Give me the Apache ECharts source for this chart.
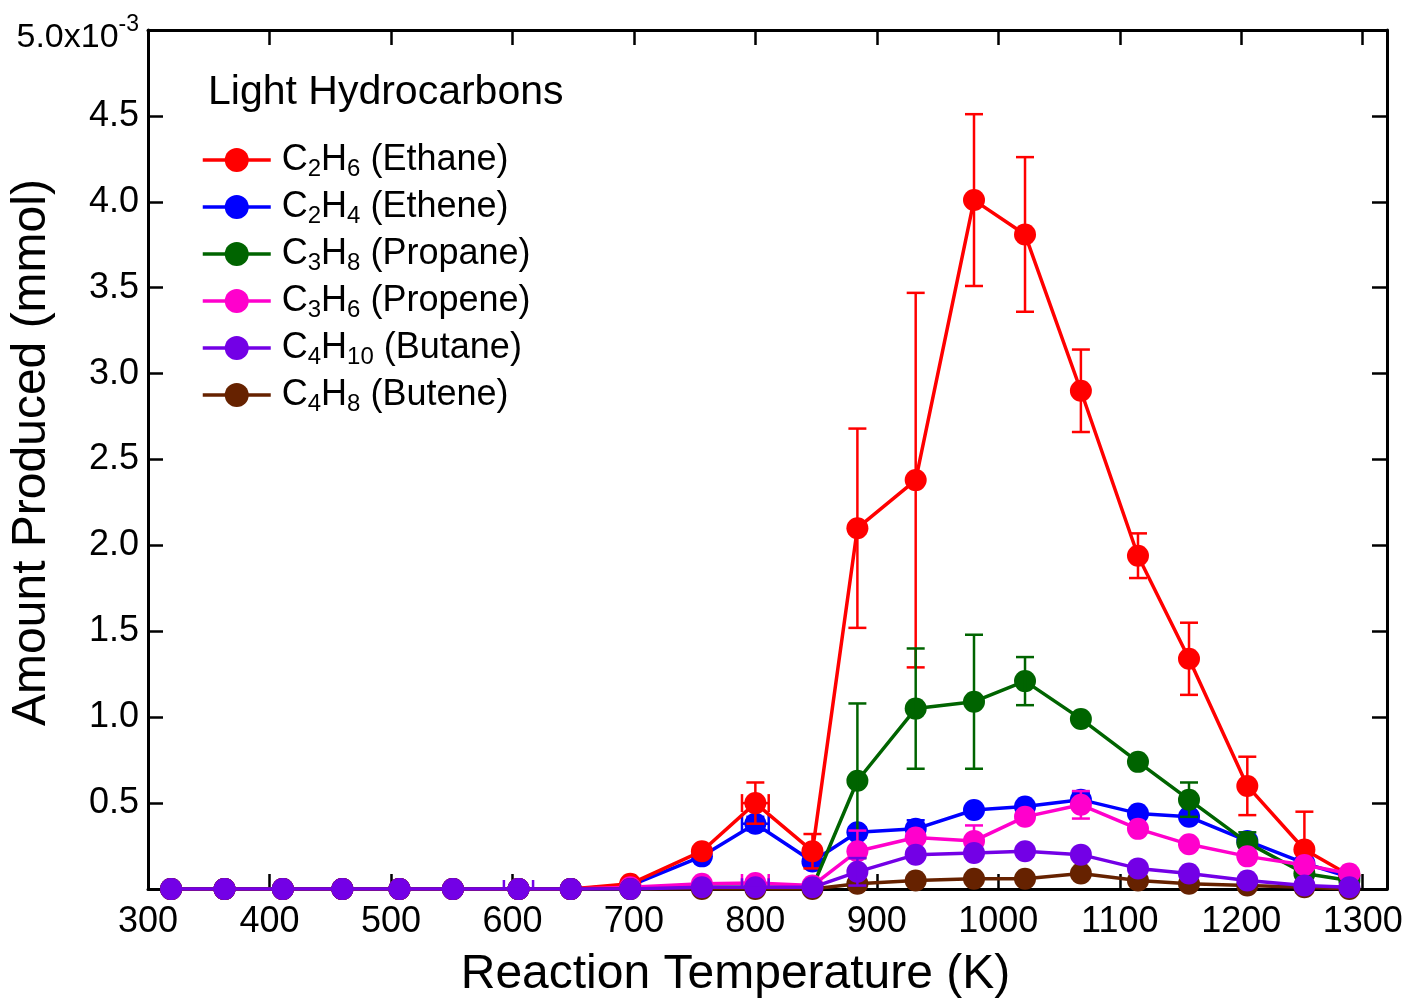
<!DOCTYPE html>
<html>
<head>
<meta charset="utf-8">
<script src="https://cdn.jsdelivr.net/npm/echarts@6/dist/echarts.min.js"></script>
<style>
html,body{margin:0;padding:0;background:#fff;}
#chart{width:1406px;height:998px;}
</style>
</head>
<body>
<div id="chart"></div>
<script>
// Reaction temperatures (K)
const temps = [319,363,411,460,507,551,605,648,697,756,800,847,884,932,980,1022,1068,1115,1157,1205,1252,1289];

// Amount produced, in units of 10^-3 mmol
const ethane  = [0,0,0,0,0,0,0,0,0.03,0.22,0.50,0.22,2.10,2.38,4.01,3.81,2.90,1.94,1.34,0.60,0.23,0.08];
const ethene  = [0,0,0,0,0,0,0,0,0.02,0.19,0.38,0.16,0.33,0.35,0.46,0.48,0.52,0.44,0.42,0.28,0.15,0.07];
const propane = [0,0,0,0,0,0,0,0,0.00,0.01,0.01,0.01,0.63,1.05,1.09,1.21,0.99,0.74,0.52,0.27,0.09,0.05];
const propene = [0,0,0,0,0,0,0,0,0.01,0.03,0.035,0.02,0.22,0.30,0.28,0.42,0.49,0.35,0.26,0.19,0.14,0.09];
const butane  = [0,0,0,0,0,0,0,0,0.00,0.01,0.01,0.01,0.10,0.20,0.21,0.22,0.20,0.12,0.09,0.05,0.02,0.01];
const butene  = [0,0,0,0,0,0,0,0,0.00,0.00,0.00,0.00,0.03,0.05,0.06,0.06,0.09,0.05,0.03,0.02,0.01,0.00];

// Vertical error (+/-), same units
const ethaneErr  = [0,0,0,0,0,0,0,0,0,0,0.12,0.10,0.58,1.09,0.50,0.45,0.24,0.13,0.21,0.17,0.22,0];
const etheneErr  = [0,0,0,0,0,0,0,0,0,0,0.04,0,0.03,0.05,0,0,0.04,0,0.02,0,0,0];
const propaneErr = [0,0,0,0,0,0,0,0,0,0,0,0,0.45,0.35,0.39,0.14,0,0,0.10,0.06,0.05,0];
const propeneErr = [0,0,0,0,0,0,0,0,0,0,0,0,0.12,0,0.09,0,0.08,0,0,0,0,0];
const butaneErr  = [0,0,0,0,0,0,0,0,0,0,0,0,0.08,0,0,0,0,0,0,0,0,0];
const buteneErr  = [0,0,0,0,0,0,0,0,0,0,0,0,0,0,0,0,0,0,0,0,0,0];

// Horizontal (temperature) error (+/- K)
const ethaneXErr  = [0,0,0,0,0,0,0,0,0,0,11,0,0,0,0,0,0,0,0,0,0,0];
const etheneXErr  = [0,0,0,0,0,0,0,0,0,0,11,0,0,0,0,0,0,0,0,0,0,0];
const propaneXErr = [0,0,0,0,0,0,0,0,0,0,0,0,0,0,0,0,0,0,0,0,0,0];
const propeneXErr = [0,0,0,0,0,0,0,0,0,0,11,0,0,0,0,0,0,0,0,0,0,0];
const butaneXErr  = [0,0,0,0,0,0,12,0,0,0,11,0,0,0,0,0,0,0,0,0,0,0];
const buteneXErr  = [0,0,0,0,0,0,0,0,0,0,0,0,0,0,0,0,0,0,0,0,0,0];

// Legend labels (formula parts and names)
const speciesNames = ['C2H6 (Ethane)','C2H4 (Ethene)','C3H8 (Propane)','C3H6 (Propene)','C4H10 (Butane)','C4H8 (Butene)'];
const speciesRich = [
  '{g|}{m|C}{s|2}{m|H}{s|6}{m| (Ethane)}',
  '{g|}{m|C}{s|2}{m|H}{s|4}{m| (Ethene)}',
  '{g|}{m|C}{s|3}{m|H}{s|8}{m| (Propane)}',
  '{g|}{m|C}{s|3}{m|H}{s|6}{m| (Propene)}',
  '{g|}{m|C}{s|4}{m|H}{s|10}{m| (Butane)}',
  '{g|}{m|C}{s|4}{m|H}{s|8}{m| (Butene)}'
];
const xTicks = [300,400,500,600,700,800,900,1000,1100,1200,1300];
const yTicks = [0.5,1.0,1.5,2.0,2.5,3.0,3.5,4.0,4.5,5.0];

const FONT = '"Liberation Sans", Arial, sans-serif';
const colors = ['#ff0000','#0000ff','#006400','#ff00cc','#7300e6','#662200'];
const values = [ethane, ethene, propane, propene, butane, butene];
const errs = [ethaneErr, etheneErr, propaneErr, propeneErr, butaneErr, buteneErr];
const xerrs = [ethaneXErr, etheneXErr, propaneXErr, propeneXErr, butaneXErr, buteneXErr];
// drawing order (z): ethene bottom, then ethane, propane, propene, butene, butane
const zOrder = [4, 2, 6, 8, 12, 10];

function errRender(color) {
  return function (params, api) {
    const x = api.value(0), y = api.value(1);
    const ey = api.value(2) || 0, ex = api.value(3) || 0;
    const cap = 9;
    const st = {stroke: color, lineWidth: 2.5};
    const ch = [];
    if (ey > 0) {
      const a = api.coord([x, y + ey]), b = api.coord([x, y - ey]);
      ch.push({type:'line', shape:{x1:a[0],y1:a[1],x2:b[0],y2:b[1]}, style:st});
      ch.push({type:'line', shape:{x1:a[0]-cap,y1:a[1],x2:a[0]+cap,y2:a[1]}, style:st});
      ch.push({type:'line', shape:{x1:b[0]-cap,y1:b[1],x2:b[0]+cap,y2:b[1]}, style:st});
    }
    if (ex > 0) {
      const a = api.coord([x - ex, y]), b = api.coord([x + ex, y]);
      ch.push({type:'line', shape:{x1:a[0],y1:a[1],x2:b[0],y2:b[1]}, style:st});
      ch.push({type:'line', shape:{x1:a[0],y1:a[1]-cap,x2:a[0],y2:a[1]+cap}, style:st});
      ch.push({type:'line', shape:{x1:b[0],y1:b[1]-cap,x2:b[0],y2:b[1]+cap}, style:st});
    }
    return {type:'group', children: ch};
  };
}

const series = [];
speciesNames.forEach((name, i) => {
  series.push({
    name: name,
    type: 'line',
    data: temps.map((t, k) => [t, values[i][k]]),
    symbol: 'circle',
    symbolSize: 22,
    lineStyle: {color: colors[i], width: 3.5},
    itemStyle: {color: colors[i]},
    z: zOrder[i],
    animation: false
  });
  const ed = [];
  temps.forEach((t, k) => {
    if (errs[i][k] > 0 || xerrs[i][k] > 0) ed.push([t, values[i][k], errs[i][k], xerrs[i][k]]);
  });
  series.push({
    type: 'custom',
    renderItem: errRender(colors[i]),
    data: ed,
    encode: {x: 0, y: 1},
    z: zOrder[i] + 1,
    clip: true,
    silent: true,
    animation: false
  });
});

const axisLineStyle = {color: '#000', width: 3};
const chart = echarts.init(document.getElementById('chart'), null, {renderer: 'canvas'});
chart.setOption({
  backgroundColor: '#fff',
  animation: false,
  title: {
    text: 'Light Hydrocarbons',
    left: 203, top: 67,
    textStyle: {fontFamily: FONT, fontSize: 41, fontWeight: 'normal', color: '#000'}
  },
  legend: {
    data: speciesNames,
    orient: 'vertical',
    left: 196, top: 137,
    itemWidth: 68, itemHeight: 30,
    itemGap: 8,
    selectedMode: false,
    lineStyle: {width: 3.5},
    formatter: function (name) { return speciesRich[speciesNames.indexOf(name)]; },
    textStyle: {
      fontFamily: FONT, color: '#000',
      rich: {
        g: {width: 6},
        m: {fontFamily: FONT, fontSize: 36, lineHeight: 42, color: '#000'},
        s: {fontFamily: FONT, fontSize: 24, lineHeight: 22, verticalAlign: 'bottom', color: '#000'}
      }
    }
  },
  grid: {left: 148, right: 19, top: 30, bottom: 109, containLabel: false, outerBoundsMode: 'none'},
  xAxis: [{
    type: 'value', min: 300, max: 1320, interval: 100,
    name: 'Reaction Temperature (K)', nameLocation: 'middle', nameGap: 62, nameMoveOverlap: false,
    nameTextStyle: {fontFamily: FONT, fontSize: 48, color: '#000', padding: [0, 64, 0, 0]},
    axisLine: {show: true, onZero: false, lineStyle: axisLineStyle},
    axisTick: {show: true, inside: true, length: 15, lineStyle: {color: '#000', width: 2.5}},
    axisLabel: {
      fontFamily: FONT, fontSize: 36, color: '#000', margin: 15, showMaxLabel: false,
      formatter: v => (xTicks.indexOf(v) >= 0 ? String(v) : '')
    },
    splitLine: {show: false}
  }, {
    type: 'value', min: 300, max: 1320, interval: 100, position: 'top',
    axisLine: {show: true, onZero: false, lineStyle: axisLineStyle},
    axisTick: {show: true, inside: true, length: 15, lineStyle: {color: '#000', width: 2.5}},
    axisLabel: {show: false}, splitLine: {show: false}
  }],
  yAxis: [{
    type: 'value', min: 0, max: 5, interval: 0.5,
    name: 'Amount Produced (mmol)', nameLocation: 'middle', nameGap: 92, nameRotate: 90, nameMoveOverlap: false,
    nameTextStyle: {fontFamily: FONT, fontSize: 48, color: '#000', padding: [0, 0, 0, 14]},
    axisLine: {show: true, onZero: false, lineStyle: axisLineStyle},
    axisTick: {show: true, inside: true, length: 15, lineStyle: {color: '#000', width: 2.5}},
    axisLabel: {
      fontFamily: FONT, fontSize: 36, color: '#000', margin: 9,
      formatter: function (v) {
        if (Math.abs(v - 5) < 1e-9) return '{a|5.0x10}{p|-3}';
        const t = yTicks.find(y => Math.abs(y - v) < 1e-9);
        return t === undefined ? '' : t.toFixed(1);
      },
      rich: {
        a: {fontFamily: FONT, fontSize: 34, lineHeight: 34, padding: [16, 0, 0, 0], color: '#000'},
        p: {fontFamily: FONT, fontSize: 23, lineHeight: 22, verticalAlign: 'top', color: '#000'}
      }
    },
    splitLine: {show: false}
  }, {
    type: 'value', min: 0, max: 5, interval: 0.5, position: 'right',
    axisLine: {show: true, onZero: false, lineStyle: axisLineStyle},
    axisTick: {show: true, inside: true, length: 15, lineStyle: {color: '#000', width: 2.5}},
    axisLabel: {show: false}, splitLine: {show: false}
  }],
  series: series
});
</script>
</body>
</html>
